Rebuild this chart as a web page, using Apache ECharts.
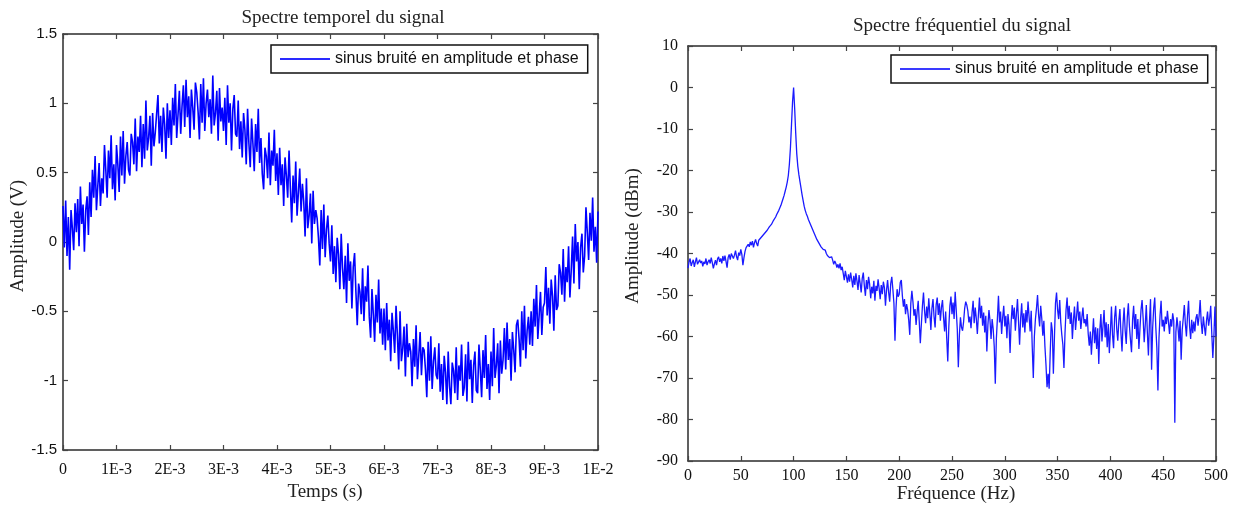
<!DOCTYPE html>
<html>
<head>
<meta charset="utf-8">
<script src="https://cdn.jsdelivr.net/npm/echarts@6/dist/echarts.min.js"></script>
<style>
  html, body { margin: 0; padding: 0; background: #fff; }
  #chart { width: 1236px; height: 506px; }
</style>
</head>
<body>
<div id="chart"></div>
<script>
// ---------------- DATA ----------------
const seriesName = 'sinus bruité en amplitude et phase';

// Time signal: sample step (s) and amplitudes (V)
const timeStep = 0.025e-3;
const timeSignal = [
  0.26,-0.04,0.30,-0.10,0.18,-0.20,0.23,0.10,-0.06,0.28,
  0.07,0.31,-0.03,0.40,0.13,0.27,-0.07,0.23,0.33,0.05,
  0.43,0.18,0.52,0.32,0.62,0.23,0.40,0.57,0.26,0.46,
  0.35,0.70,0.52,0.32,0.66,0.46,0.77,0.38,0.56,0.30,
  0.70,0.56,0.36,0.76,0.48,0.80,0.42,0.62,0.72,0.52,
  0.48,0.78,0.72,0.56,0.89,0.51,0.76,0.65,0.91,0.54,
  0.85,0.60,1.02,0.66,0.75,0.91,0.55,0.93,0.69,0.79,
  0.80,1.06,0.71,0.91,0.65,0.97,0.85,0.60,1.00,0.75,
  0.95,0.70,1.04,0.84,1.14,0.75,0.92,1.09,0.78,0.98,
  1.13,0.83,1.17,0.90,1.05,0.75,1.10,0.97,0.81,1.15,
  1.08,0.94,0.74,1.14,0.86,1.18,0.80,1.00,1.10,0.90,
  1.03,0.78,1.20,0.84,0.93,1.09,0.73,1.11,0.87,0.97,
  0.80,1.04,0.70,1.13,0.86,1.00,0.66,0.96,1.06,0.78,
  0.76,1.02,0.67,0.87,0.61,0.93,0.81,0.56,0.96,0.71,
  0.54,0.89,0.71,0.51,0.85,0.65,0.96,0.57,0.75,0.49,
  0.38,0.68,0.62,0.46,0.79,0.41,0.66,0.55,0.81,0.44,
  0.64,0.34,0.68,0.41,0.56,0.26,0.61,0.48,0.32,0.66,
  0.39,0.14,0.48,0.28,0.58,0.19,0.36,0.53,0.22,0.42,
  0.29,0.04,0.46,0.10,0.19,0.35,-0.01,0.37,0.13,0.23,
  0.17,0.03,-0.17,0.23,-0.05,0.27,-0.11,0.09,0.19,-0.01,
  -0.14,0.12,-0.23,-0.03,-0.29,0.03,-0.09,-0.34,0.06,-0.19,
  -0.34,-0.10,-0.44,-0.01,-0.28,-0.14,-0.48,-0.18,-0.08,-0.36,
  -0.60,-0.30,-0.36,-0.52,-0.19,-0.57,-0.32,-0.43,-0.17,-0.54,
  -0.69,-0.34,-0.52,-0.72,-0.38,-0.58,-0.27,-0.66,-0.48,-0.74,
  -0.48,-0.78,-0.44,-0.71,-0.56,-0.86,-0.51,-0.64,-0.80,-0.46,
  -0.67,-0.92,-0.50,-0.86,-0.77,-0.61,-0.97,-0.59,-0.83,-0.73,
  -0.79,-1.04,-0.70,-0.90,-0.60,-0.99,-0.82,-0.65,-0.96,-0.76,
  -0.78,-0.92,-1.12,-0.72,-1.00,-0.68,-1.06,-0.86,-0.76,-0.96,
  -0.99,-0.73,-1.08,-0.88,-1.14,-0.82,-0.94,-1.17,-0.79,-1.04,
  -1.17,-0.87,-0.93,-1.09,-0.76,-1.14,-0.89,-1.00,-0.74,-1.11,
  -1.05,-0.81,-1.15,-0.72,-0.99,-0.85,-1.16,-0.89,-0.79,-1.07,
  -1.09,-0.74,-0.92,-1.12,-0.78,-0.98,-0.67,-1.06,-0.88,-1.14,
  -0.79,-1.04,-0.62,-0.98,-0.89,-0.73,-1.09,-0.71,-0.95,-0.85,
  -0.62,-0.92,-0.58,-0.85,-0.70,-1.00,-0.65,-0.78,-0.94,-0.60,
  -0.56,-0.70,-0.90,-0.50,-0.78,-0.46,-0.84,-0.64,-0.54,-0.74,
  -0.50,-0.75,-0.41,-0.61,-0.31,-0.70,-0.53,-0.36,-0.67,-0.47,
  -0.44,-0.18,-0.53,-0.33,-0.59,-0.27,-0.39,-0.64,-0.24,-0.49,
  -0.46,-0.16,-0.22,-0.38,-0.05,-0.43,-0.18,-0.29,-0.03,-0.40,
  -0.20,0.04,-0.30,0.13,-0.14,0.00,-0.34,-0.04,0.06,-0.22,
  -0.10,0.25,0.07,-0.13,0.21,0.01,0.32,-0.07,0.11,-0.15,
  0.22
];

// Spectrum: bin step (Hz) and level (dBm) per bin, 0..500 Hz
const freqStep = 1;
const spectrum = [
  -43.5,-42.0,-41.2,-43.0,-42.2,-41.5,-43.2,-42.0,-41.0,-42.6,
  -43.0,-41.5,-42.3,-41.8,-43.1,-42.0,-42.5,-41.2,-42.8,-42.0,
  -41.5,-42.4,-41.0,-42.2,-43.6,-42.5,-41.6,-42.8,-41.3,-40.8,
  -42.0,-41.2,-42.4,-40.6,-41.8,-40.5,-41.9,-43.4,-41.0,-40.2,
  -41.5,-40.0,-39.6,-41.2,-40.4,-39.3,-40.8,-41.6,-39.8,-40.5,
  -39.0,-40.2,-42.8,-41.0,-39.5,-38.6,-39.0,-37.8,-38.4,-37.2,
  -38.0,-37.0,-38.5,-37.4,-36.6,-37.6,-38.2,-36.8,-37.0,-36.2,
  -36.0,-35.6,-35.2,-35.0,-34.6,-34.4,-34.0,-33.6,-33.4,-33.0,
  -32.6,-32.0,-31.6,-31.2,-30.6,-30.2,-29.6,-29.0,-28.4,-27.6,
  -26.8,-26.0,-25.0,-24.0,-22.8,-21.2,-18.5,-14.5,-9.0,-3.5,
  0.0,-5.0,-11.0,-16.0,-19.0,-21.0,-22.6,-24.2,-25.8,-27.2,
  -28.6,-29.6,-30.4,-31.0,-31.8,-32.4,-33.0,-33.6,-34.2,-34.6,
  -35.4,-35.8,-36.6,-36.9,-37.5,-37.6,-38.4,-38.2,-39.0,-39.4,
  -39.2,-40.0,-40.5,-40.2,-41.0,-41.4,-40.8,-41.6,-42.6,-41.8,
  -42.4,-43.4,-42.6,-43.6,-42.4,-44.0,-43.2,-44.8,-46.4,-44.2,
  -45.6,-47.0,-45.0,-46.8,-44.6,-46.2,-48.2,-45.4,-47.6,-44.8,
  -46.6,-48.8,-45.2,-47.2,-49.4,-46.0,-44.6,-47.8,-50.2,-46.4,
  -48.6,-45.6,-47.4,-50.8,-48.0,-49.6,-46.6,-51.4,-47.8,-49.0,
  -46.2,-48.4,-51.0,-47.6,-49.8,-46.8,-48.2,-52.6,-48.8,-46.4,
  -49.4,-51.6,-47.2,-45.6,-48.6,-52.0,-61.0,-53.0,-48.6,-50.4,
  -49.8,-47.0,-46.4,-50.2,-52.8,-51.0,-54.6,-52.2,-53.6,-56.0,
  -59.6,-52.0,-49.0,-51.6,-55.0,-53.4,-57.2,-54.0,-51.4,-56.4,
  -61.6,-57.0,-52.6,-49.4,-53.8,-56.8,-52.8,-55.6,-50.8,-54.4,
  -58.4,-53.2,-51.0,-55.2,-57.8,-52.4,-50.6,-54.8,-52.0,-56.2,
  -53.0,-51.2,-55.4,-58.8,-54.0,-60.4,-66.0,-57.6,-52.6,-50.4,
  -54.6,-51.8,-55.8,-49.2,-53.6,-58.2,-67.4,-59.6,-55.4,-57.8,
  -58.6,-56.4,-53.2,-51.6,-52.4,-53.8,-56.6,-55.2,-58.0,-54.2,
  -51.4,-56.8,-53.0,-55.6,-59.4,-54.8,-50.6,-55.6,-52.6,-57.4,
  -54.2,-59.0,-55.0,-63.6,-57.2,-53.6,-56.2,-60.6,-55.8,-58.2,
  -62.4,-71.4,-60.6,-55.6,-50.2,-56.6,-54.0,-59.4,-55.4,-52.6,
  -57.6,-55.0,-60.4,-54.6,-57.2,-64.0,-56.6,-52.4,-55.8,-53.0,
  -58.6,-54.6,-51.0,-56.4,-62.0,-55.6,-52.0,-57.8,-54.4,-59.0,
  -53.6,-56.6,-51.6,-55.2,-58.8,-53.8,-62.6,-70.0,-60.0,-55.8,
  -53.2,-50.0,-54.8,-57.6,-52.6,-55.6,-59.8,-56.2,-62.4,-66.8,
  -72.2,-69.0,-72.6,-64.0,-56.6,-58.6,-69.0,-60.2,-52.0,-49.4,
  -53.6,-55.8,-51.2,-56.6,-59.6,-62.0,-67.6,-59.2,-53.6,-50.6,
  -55.8,-52.6,-57.0,-54.2,-60.6,-56.0,-52.8,-58.4,-55.0,-51.6,
  -56.2,-54.0,-58.2,-55.4,-53.0,-56.8,-55.8,-57.6,-54.6,-59.4,
  -62.2,-58.8,-64.4,-59.8,-55.6,-61.6,-57.8,-63.0,-58.0,-66.6,
  -58.4,-54.6,-61.2,-57.4,-53.6,-60.2,-56.6,-62.6,-57.0,-64.0,
  -58.8,-52.8,-59.6,-62.8,-55.4,-52.6,-58.2,-61.0,-56.2,-53.4,
  -59.2,-63.6,-56.8,-53.0,-58.6,-61.8,-55.4,-52.0,-57.4,-60.8,
  -63.8,-56.0,-52.6,-58.2,-54.6,-60.6,-55.8,-63.0,-58.0,-53.6,
  -51.2,-55.6,-61.4,-57.2,-52.4,-59.0,-64.6,-56.4,-51.0,-68.0,
  -58.0,-53.2,-50.6,-57.8,-62.8,-73.0,-60.4,-55.0,-51.4,-57.6,
  -56.0,-58.8,-55.2,-57.0,-53.8,-56.6,-59.4,-55.8,-57.6,-54.4,
  -56.2,-80.8,-59.0,-55.4,-57.8,-61.2,-56.2,-65.6,-58.4,-55.6,
  -52.4,-57.0,-60.0,-55.0,-51.4,-57.6,-60.6,-56.0,-59.2,-56.4,
  -58.8,-55.6,-54.6,-57.4,-55.0,-51.2,-56.6,-59.4,-55.2,-57.6,
  -59.8,-56.2,-54.0,-57.4,-55.6,-52.6,-59.2,-65.2,-60.0,-52.8,
  -60.0
];

// Tick labels
const timeTickLabels = ['0','1E-3','2E-3','3E-3','4E-3','5E-3','6E-3','7E-3','8E-3','9E-3','1E-2'];
const leftTitle = 'Spectre temporel du signal';
const rightTitle = 'Spectre fréquentiel du signal';
const leftXName = 'Temps (s)';
const leftYName = 'Amplitude (V)';
const rightXName = 'Fréquence (Hz)';
const rightYName = 'Amplitude (dBm)';

// ---------------- CHART ----------------
const timeData = timeSignal.map((v, i) => [i * timeStep, v]);
const freqData = spectrum.map((v, i) => [i * freqStep, v]);

const SERIF = '"Liberation Serif", "Times New Roman", serif';
const SANS = '"Liberation Sans", Arial, sans-serif';
const FRAME = '#2b2b2b';

function frameAxis(extra) {
  return Object.assign({
    axisLine: { show: true, onZero: false, lineStyle: { color: FRAME, width: 1.5 } },
    axisTick: { show: true, inside: true, length: 5, lineStyle: { color: '#444', width: 1.2 } },
    splitLine: { show: false }
  }, extra);
}

function legendAt(left, top, color) {
  return {
    data: [seriesName], left: left, top: top, icon: 'rect', itemWidth: 50, itemHeight: 2, itemGap: 5,
    padding: [6, 9, 6, 9], borderColor: '#111', borderWidth: 1.5, backgroundColor: '#fff',
    itemStyle: { color: color },
    textStyle: { fontFamily: SANS, fontSize: 16, color: '#111' }
  };
}

const chart = echarts.init(document.getElementById('chart'), null, { renderer: 'canvas' });

const option = {
  animation: false,
  backgroundColor: '#fff',
  grid: [
    { left: 63, top: 34, width: 535, height: 416, containLabel: false },
    { left: 688, top: 46, width: 528, height: 415, containLabel: false }
  ],
  xAxis: [
    frameAxis({
      type: 'value', gridIndex: 0, min: 0, max: 0.01, interval: 0.001, position: 'bottom',
      axisLabel: {
        margin: 12, fontFamily: SERIF, fontSize: 16, color: '#111',
        formatter: v => timeTickLabels[Math.round(v / 0.001)]
      }
    }),
    frameAxis({
      type: 'value', gridIndex: 0, min: 0, max: 0.01, interval: 0.001, position: 'top',
      axisLabel: { show: false }
    }),
    frameAxis({
      type: 'value', gridIndex: 1, min: 0, max: 500, interval: 50, position: 'bottom',
      axisLabel: { margin: 7, fontFamily: SERIF, fontSize: 16, color: '#111' }
    }),
    frameAxis({
      type: 'value', gridIndex: 1, min: 0, max: 500, interval: 50, position: 'top',
      axisLabel: { show: false }
    })
  ],
  yAxis: [
    frameAxis({
      type: 'value', gridIndex: 0, min: -1.5, max: 1.5, interval: 0.5, position: 'left',
      axisLabel: { margin: 6, fontFamily: SANS, fontSize: 15, color: '#111' }
    }),
    frameAxis({
      type: 'value', gridIndex: 0, min: -1.5, max: 1.5, interval: 0.5, position: 'right',
      axisLabel: { show: false }
    }),
    frameAxis({
      type: 'value', gridIndex: 1, min: -90, max: 10, interval: 10, position: 'left',
      axisLabel: { margin: 10, fontFamily: SERIF, fontSize: 16, color: '#111' }
    }),
    frameAxis({
      type: 'value', gridIndex: 1, min: -90, max: 10, interval: 10, position: 'right',
      axisLabel: { show: false }
    })
  ],
  legend: [legendAt(271, 45, '#2a2aff'), legendAt(891, 55, '#3a3aff')],
  graphic: [
    { type: 'text', x: 343, y: 18, style: { text: leftTitle, font: '19px ' + SERIF, fill: '#222', align: 'center', verticalAlign: 'middle' } },
    { type: 'text', x: 962, y: 26, style: { text: rightTitle, font: '19px ' + SERIF, fill: '#222', align: 'center', verticalAlign: 'middle' } },
    { type: 'text', x: 325, y: 492, style: { text: leftXName, font: '19px ' + SERIF, fill: '#222', align: 'center', verticalAlign: 'middle' } },
    { type: 'text', x: 956, y: 494, style: { text: rightXName, font: '19px ' + SERIF, fill: '#222', align: 'center', verticalAlign: 'middle' } },
    { type: 'text', x: 18, y: 236, rotation: Math.PI / 2, style: { text: leftYName, font: '19px ' + SERIF, fill: '#222', align: 'center', verticalAlign: 'middle' } },
    { type: 'text', x: 633, y: 236, rotation: Math.PI / 2, style: { text: rightYName, font: '19px ' + SERIF, fill: '#222', align: 'center', verticalAlign: 'middle' } }
  ],
  series: [
    {
      name: seriesName, type: 'line', xAxisIndex: 0, yAxisIndex: 0, data: timeData,
      symbol: 'none', showSymbol: false, silent: true,
      lineStyle: { color: '#0000ff', width: 1.6 }, itemStyle: { color: '#0000ff' }
    },
    {
      name: seriesName, type: 'line', xAxisIndex: 2, yAxisIndex: 2, data: freqData,
      symbol: 'none', showSymbol: false, silent: true,
      lineStyle: { color: '#1a1aff', width: 1.3 }, itemStyle: { color: '#1a1aff' }
    }
  ]
};

chart.setOption(option);
</script>
</body>
</html>
